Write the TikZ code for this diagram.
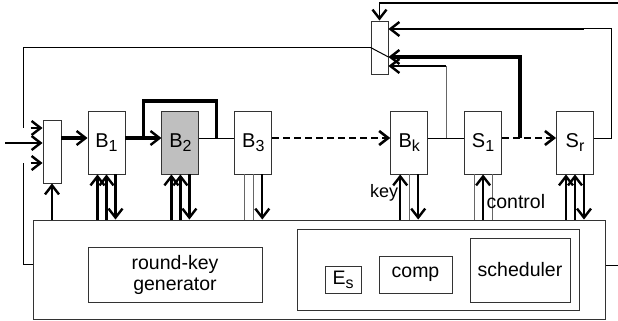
\documentclass[tikz,border=0pt]{standalone}
\usepackage{fontspec}
\setmainfont{Liberation Sans}
\usetikzlibrary{arrows.meta, positioning, calc}
\newcommand{\blocksub}[1]{\raisebox{-4pt}{\fontsize{16}{16}\selectfont #1}}
\tikzstyle{block} = [draw=black!80, rectangle, minimum width=37pt, minimum height=63pt, inner sep=0pt, line width=0.9pt, font=\fontsize{20}{22}\selectfont]
\tikzstyle{mux} = [draw=black!80, rectangle, minimum width=18pt, inner sep=0pt, line width=0.9pt]
\tikzstyle{unit} = [draw=black!80, rectangle, inner sep=0pt, line width=0.9pt, align=center, font=\fontsize{19.5}{21}\selectfont]
\tikzstyle{arrow} = [line width=2.3pt, -{Straight Barb[length=9pt,width=14pt,line width=2.4pt]}]
\tikzstyle{bus} = [line width=3.2pt]
\tikzstyle{wire} = [line width=1pt]
\tikzstyle{side} = [line width=1pt, draw=black!60]
\tikzstyle{dots} = [line width=2.8pt, dash pattern=on 7pt off 4pt, -{Straight Barb[length=9pt,width=14pt,line width=2.6pt]}]

\begin{document}
\begin{tikzpicture}[x=1pt, y=-1pt, node distance=36pt]
    \useasboundingbox (0,0) rectangle (618,321);
    % rounds and selectors
    \node [block] (b1) at (106.5,142.5) {B\blocksub{1}};
    \node [block, fill=black!25, right=36pt of b1] (b2) {B\blocksub{2}};
    \node [block, right=35pt of b2] (b3) {B\blocksub{3}};
    \node [block, right=118pt of b3] (bk) {B\blocksub{k}};
    \node [block, right=36pt of bk] (s1) {S\blocksub{1}};
    \node [block, right=54pt of s1] (sr) {S\blocksub{r}};
    \node [mux, minimum height=63pt] (lmux) at (52,151.5) {};
    \node [mux, minimum width=17pt, minimum height=53pt] (tmux) at (379.5,47.5) {};
    % key and control part
    \node [unit, minimum width=572pt, minimum height=99pt] (main) at (319.5,269.5) {};
    \node [unit, minimum width=174pt, minimum height=55pt] (rkg) at (175,275) {round-key\\generator};
    \node [unit, minimum width=282pt, minimum height=81pt] (ctrl) at (438,269.5) {};
    \node [unit, minimum width=36pt, minimum height=27pt] (es) at (343,279.5) {E\blocksub{s}};
    \node [unit, minimum width=73pt, minimum height=37pt] (comp) at (415.5,274.5) {comp};
    \node [unit, minimum width=100pt, minimum height=64pt] (sched) at (520,270) {scheduler};
    \coordinate (in) at (5,143);
    \coordinate (keyin) at (618,3);
    \coordinate (out) at (618,265);

    % data path
    \draw [arrow, bus] ([yshift=4.5pt]lmux.east |- b1.west) -- ([yshift=4.5pt]b1.west);
    \draw [arrow, bus] ([yshift=4.5pt]b1.east) -- ([yshift=4.5pt]b2.west);
    \coordinate (c12) at ($([yshift=4.5pt]b1.east)!0.5!([yshift=4.5pt]b2.west)$);
    \coordinate (c23) at ($([yshift=4.5pt]b2.east)!0.5!([yshift=4.5pt]b3.west)$);
    \draw [bus] (c12) -- ++(0,-37) -| (c23);
    \draw [wire] ([yshift=4.5pt]b2.east) -- ([yshift=4.5pt]b3.west);
    \draw [dots] ([yshift=4.5pt]b3.east) -- ([yshift=4.5pt]bk.west);
    \draw [wire] ([yshift=4.5pt]bk.east) -- ([yshift=4.5pt]s1.west);
    \draw [dots] ([yshift=4.5pt]s1.east) -- ([yshift=4.5pt]sr.west);

    % feedback into the top selector
    \coordinate (cks) at ($([yshift=4.5pt]bk.east)!0.5!([yshift=4.5pt]s1.west)$);
    \coordinate (css) at ([xshift=18pt, yshift=4.5pt]s1.east);
    \coordinate (f1) at ([yshift=-18.5pt]tmux.east);
    \coordinate (f2) at ([yshift=-9.5pt]tmux.east);
    \coordinate (f3) at ([yshift=18.5pt]tmux.east);
    \draw [side] (cks) -- (cks |- f1);
    \draw [arrow] (cks |- f1) -- (f1);
    \draw [arrow, bus] (css) |- (f2);
    \draw [wire] ([yshift=4.5pt]sr.east) -- ++(18,0) |- ([xshift=-10pt]f3 -| sr.east);
    \draw [arrow] ([xshift=-10pt]f3 -| sr.east) -- (f3);
    \draw [arrow, line width=1.6pt] (keyin) -| (tmux.north);
    \draw [wire] (tmux.west) -- (f2);

    % left selector
    \draw [wire] (tmux.west) -| ([xshift=-19pt, yshift=23.5pt]lmux.west);
    \draw [arrow] ([xshift=-12pt, yshift=23.5pt]lmux.west) -- ([yshift=23.5pt]lmux.west);
    \draw [arrow] (in) -- (in -| lmux.west);
    \draw [wire] ([yshift=5.5pt]main.west) -| ([xshift=-19pt, yshift=-11.5pt]lmux.west);
    \draw [arrow] ([xshift=-12pt, yshift=-11.5pt]lmux.west) -- ([yshift=-11.5pt]lmux.west);
    \draw [arrow, line width=1.8pt] (lmux.south |- main.north) -- (lmux.south);
    \draw [wire] (main.east |- out) -- (out);

    % key and control lines
    \foreach \b in {b1, b2, sr} {
        \coordinate (p) at ([xshift=-9pt]\b.south);
        \coordinate (q) at ([xshift=9pt]\b.south);
        \draw [arrow] (p |- main.north) -- (p);
        \draw [arrow] (\b.south |- main.north) -- (\b.south);
        \draw [arrow] (q) -- (q |- main.north);
    }
    \coordinate (p) at ([xshift=-9pt]b3.south);
    \coordinate (q) at ([xshift=9pt]b3.south);
    \draw [side] (p) -- (p |- main.north);
    \draw [side] (b3.south) -- (b3.south |- main.north);
    \draw [arrow] (q) -- (q |- main.north);
    \coordinate (p) at ([xshift=-9pt]bk.south);
    \coordinate (q) at ([xshift=9pt]bk.south);
    \draw [arrow] (p |- main.north) -- node [left, pos=0.6, inner sep=1pt, font=\fontsize{18}{18}\selectfont] {key} (p);
    \draw [side] (bk.south) -- (bk.south |- main.north);
    \draw [arrow] (q) -- (q |- main.north);
    \coordinate (p) at ([xshift=-9pt]s1.south);
    \coordinate (q) at ([xshift=9pt]s1.south);
    \draw [side] (p) -- (p |- main.north);
    \draw [arrow] (s1.south |- main.north) -- (s1.south);
    \draw [side] (q) -- node [anchor=west, pos=0.6, inner sep=0pt, xshift=-6pt, font=\fontsize{19.5}{19.5}\selectfont] {control} (q |- main.north);
\end{tikzpicture}
\end{document}
